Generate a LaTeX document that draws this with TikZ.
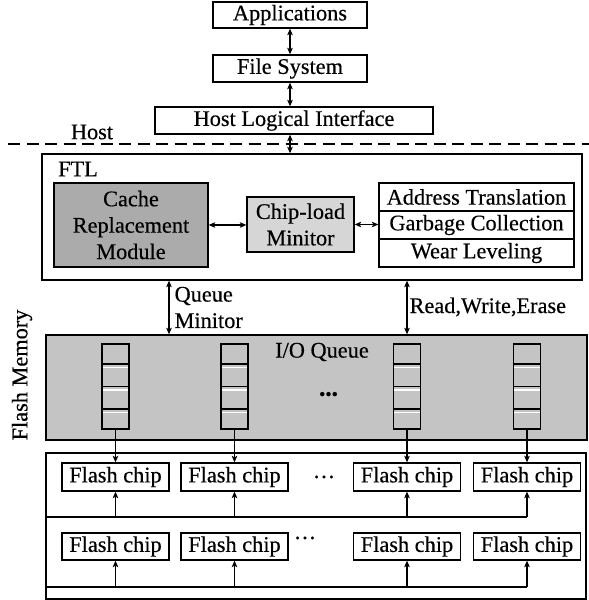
\documentclass[tikz,border=0pt]{standalone}
\usepackage{fontspec}
\setmainfont{Liberation Serif}
\newfontfamily\figfont{Liberation Serif}[FakeBold=0.4]
\usetikzlibrary{arrows.meta}

\begin{document}
\begin{tikzpicture}[>={Stealth[length=6.5bp,width=5.5bp,inset=1.5bp]}, line width=1.2bp,
  font=\figfont\fontsize{22.4}{26.5}\selectfont,
  box/.style={draw, line width=1.3bp, inner sep=0pt, align=center},
  chipbox/.style={box, fill=white, minimum width=107bp, minimum height=28bp},
  cell/.style={box, fill=ioqgray, minimum width=27bp, minimum height=85bp},
  lbl/.style={inner sep=0pt, align=left}]
  \definecolor{cachegray}{gray}{0.67}
  \definecolor{loadgray}{gray}{0.84}
  \definecolor{ioqgray}{gray}{0.77}
  \useasboundingbox (0bp,0bp) rectangle (589bp,600bp);
%%
  \node (app) at (290bp,585bp) [box, minimum width=154bp, minimum height=26bp] {Applications};
  \node (fs) at (290bp,531.5bp) [box, minimum width=154bp, minimum height=27bp] {File System};
  \node (hli) at (294bp,479.5bp) [box, minimum width=278bp, minimum height=27bp] {Host Logical Interface};
  \node (host) at (92bp,468bp) {Host};
  \draw [dash pattern=on 12bp off 6.5bp, line width=1.3bp] (8bp,456bp) -- (589bp,456bp);
  \draw [<->] (app) -- (fs);
  \draw [<->] (fs.south) -- (fs.south |- hli.north);
%% FTL
  \node (ftl) at (312bp,383bp) [box, minimum width=540bp, minimum height=126bp] {};
  \node (ftll) at (78bp,431bp) {FTL};
  \node (cache) at (131bp,375bp) [box, fill=cachegray, minimum width=154bp, minimum height=84bp] {Cache\\Replacement\\Module};
  \node (cload) at (300.5bp,375.5bp) [box, fill=loadgray, minimum width=107bp, minimum height=55bp] {Chip-load\\Minitor};
  \node (at) at (476.5bp,403bp) [box, minimum width=195bp, minimum height=28bp] {Address Translation};
  \node (gc) at (476.5bp,375bp) [box, minimum width=195bp, minimum height=28bp] {Garbage Collection};
  \node (wl) at (476.5bp,347bp) [box, minimum width=195bp, minimum height=28bp] {Wear Leveling};
  \draw [<->] (hli.south -| fs.south) -- (fs.south |- ftl.north);
  \draw [<->] (cache.east) -- (cache.east -| cload.west);
  \draw [<->] (cload.east) -- (cload.east -| gc.west);
%% flash memory
  \node (fm) at (22bp,225bp) [rotate=90] {Flash Memory};
  \node (ioq) at (316.5bp,212.5bp) [box, fill=ioqgray, minimum width=541bp, minimum height=105bp] {};
  \node (ioql) at (322bp,248bp) {I/O Queue};
  \node (qdots) at (328.5bp,204bp) [font=\figfont\fontsize{18}{20}\selectfont] {•••};
  \node (fbox) at (316bp,74bp) [box, minimum width=540bp, minimum height=146bp] {};
  \coordinate (bus1) at (46bp,83bp);
  \coordinate (bus2) at (46bp,13bp);
  \foreach \i/\x in {1/115.5, 2/234.5, 3/407, 4/527} {
    \node (q\i) at (\x bp,213.5bp) [cell] {};
    \foreach \d in {22.5, 0, -22.5} {
      \draw [line width=1.3bp] ([yshift=\d bp]q\i.west) -- ([yshift=\d bp]q\i.east);
      \draw [white, line width=1.2bp, shorten <=1.5bp, shorten >=1.5bp] ([yshift=\d bp-3.5bp]q\i.west) -- ([yshift=\d bp-3.5bp]q\i.east);
    }
    \node (ca\i) at (\x bp,123bp) [chipbox] {Flash chip};
    \node (cb\i) at (\x bp,53.5bp) [chipbox, minimum height=27bp] {Flash chip};
    \draw [->] (q\i) -- (ca\i);
    \draw [->] (ca\i |- bus1) -- (ca\i);
    \draw [->] (cb\i |- bus2) -- (cb\i);
  }
  \node (rdots1) at (324bp,120bp) {···};
  \node (rdots2) at (305bp,59bp) {···};
  \draw (bus1) -- (ca4 |- bus1);
  \draw (bus2) -- (cb4 |- bus2);
%% FTL <-> I/O queue
  \coordinate (qmx) at (169bp,300bp);
  \draw [<->] (ftl.south -| qmx) -- (ioq.north -| qmx);
  \node (qml) at (174bp,292.5bp) [lbl, anchor=west] {Queue\\Minitor};
  \draw [<->] (ftl.south -| q3) -- (ioq.north -| q3);
  \node (rwel) at (409bp,293bp) [lbl, anchor=west] {Read,Write,Erase};
%
\end{tikzpicture}
\end{document}
